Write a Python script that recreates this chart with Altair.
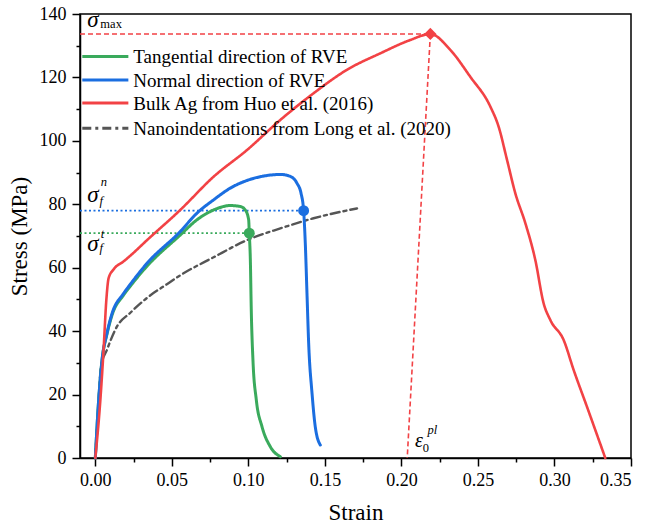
import altair as alt
import pandas as pd

# ---------------- data ----------------
red_strain = [0, 0.0033, 0.0054, 0.0072, 0.0087, 0.012, 0.0185, 0.0229, 0.0338, 0.0555, 0.0773,
              0.0991, 0.1209, 0.1426, 0.1644, 0.1862, 0.2058, 0.2189, 0.2319, 0.245, 0.2581,
              0.2635, 0.269, 0.2744, 0.281, 0.2875, 0.2929, 0.2973, 0.306, 0.3125, 0.3212, 0.3332]
red_stress = [0, 18.3, 34.1, 49.8, 56.7, 59.5, 62.0, 63.8, 68.7, 78.2, 88.7,
              97.1, 106.6, 115.0, 122.4, 127.6, 131.8, 133.7, 128.7, 120.2, 110.8,
              104.5, 94.0, 83.5, 74.0, 62.4, 48.8, 43.5, 37.2, 27.8, 16.2, 0]

blue_strain = [0, 0.0022, 0.0044, 0.0076, 0.0109, 0.0185, 0.0229, 0.0338, 0.0555, 0.0664, 0.0773,
               0.0882, 0.0991, 0.11, 0.1209, 0.1274, 0.1318, 0.1344, 0.1361, 0.1372, 0.1383,
               0.1394, 0.1416, 0.1437, 0.147]
blue_stress = [0, 18.3, 30.9, 39.3, 45.5, 51.9, 54.8, 61.4, 71.4, 77.2, 81.4,
               85.1, 87.5, 88.9, 89.4, 88.8, 86.6, 83.5, 78.0, 67.7, 51.9,
               36.2, 20.4, 9.9, 4.1]

green_strain = [0, 0.0022, 0.0044, 0.0076, 0.0109, 0.0185, 0.0229, 0.0338, 0.0555, 0.0664, 0.0773,
                0.0882, 0.0947, 0.098, 0.1002, 0.1006, 0.1013, 0.1019, 0.103, 0.1052, 0.1089,
                0.1143, 0.1209]
green_stress = [0, 18.3, 30.9, 39.0, 45.0, 51.4, 54.2, 60.5, 70.3, 75.1, 78.2,
                79.6, 79.3, 78.2, 75.1, 70.9, 62.4, 46.7, 30.9, 18.3, 9.9,
                3.6, 0.4]

gray_strain = [0, 0.0022, 0.0037, 0.0076, 0.0142, 0.0229, 0.0338, 0.0468, 0.0555, 0.0773,
               0.0991, 0.1209, 0.1426, 0.171]
gray_stress = [0, 18.3, 28.8, 34.1, 41.5, 45.8, 50.5, 54.8, 57.6, 63.3,
               68.7, 72.4, 75.6, 78.7]

series_names = ["Tangential direction of RVE", "Normal direction of RVE",
                "Bulk Ag from Huo et al. (2016)", "Nanoindentations from Long et al. (2020)"]
series_colors = ["#3AAA5C", "#1B6EE0", "#F24245", "#555555"]
series_dash = [[1, 0], [1, 0], [1, 0], [9, 4, 3, 4]]

peak_strain, peak_stress = 0.2189, 133.7
eps0_strain = 0.2038
blue_fail_strain, blue_fail_stress = 0.1361, 78.0
green_fail_strain, green_fail_stress = 0.1006, 70.9

x_min, x_max = -0.01, 0.35
y_min, y_max = 0, 140
x_tick_values = [round(i * 0.025, 3) for i in range(15)]
y_tick_values = list(range(0, 141, 10))

# legend rows (stress level for each row) and line/label strain positions
legend_rows_stress = [126.6, 119.2, 111.9, 104.0]
legend_line_x1, legend_line_x2, legend_text_x = -0.0085, 0.0216, 0.0248

FONT = "Liberation Serif"

# ---------------- build tables ----------------
def series_df(name, xs, ys):
    return pd.DataFrame({"series": name, "idx": range(len(xs)), "strain": xs, "stress": ys})

df_green = series_df(series_names[0], green_strain, green_stress)
df_blue = series_df(series_names[1], blue_strain, blue_stress)
df_red = series_df(series_names[2], red_strain, red_stress)
df_gray = series_df(series_names[3], gray_strain, gray_stress)

color_scale = alt.Scale(domain=series_names, range=series_colors)
dash_scale = alt.Scale(domain=series_names, range=series_dash)

xs = alt.Scale(domain=[x_min, x_max], nice=False, zero=False)
ys = alt.Scale(domain=[y_min, y_max], nice=False, zero=False)

minor_x = "abs(datum.value*20 - round(datum.value*20)) > 0.001"
minor_y = "datum.value % 20 != 0"

x_axis = alt.Axis(values=x_tick_values, title="Strain",
                  labelExpr="abs(datum.value*20 - round(datum.value*20)) > 0.001 ? '' : format(datum.value, '.2f')",
                  tickSize={"condition": {"test": minor_x, "value": 4}, "value": 8},
                  grid=False, labelPadding=5, titlePadding=12,
                  labelFont=FONT, titleFont=FONT, labelFontSize=18, titleFontSize=23,
                  titleFontWeight="normal")
y_axis = alt.Axis(values=y_tick_values, title="Stress (MPa)",
                  labelExpr="datum.value % 20 != 0 ? '' : format(datum.value, 'd')",
                  tickSize={"condition": {"test": minor_y, "value": 4}, "value": 8},
                  grid=False, labelPadding=6, titlePadding=8,
                  labelFont=FONT, titleFont=FONT, labelFontSize=18, titleFontSize=23,
                  titleFontWeight="normal")


def curve(df, width):
    return alt.Chart(df).mark_line(strokeWidth=width, strokeCap="round", strokeJoin="round",
                                   interpolate="monotone").encode(
        x=alt.X("strain:Q", scale=xs, axis=x_axis),
        y=alt.Y("stress:Q", scale=ys, axis=y_axis),
        color=alt.Color("series:N", scale=color_scale, legend=None),
        strokeDash=alt.StrokeDash("series:N", scale=dash_scale, legend=None),
        order="idx:Q",
    )


# reference (dashed / dotted) guide lines
guides = pd.DataFrame({
    "x1": [x_min, peak_strain, x_min, x_min],
    "x2": [peak_strain, eps0_strain, blue_fail_strain, green_fail_strain],
    "y1": [peak_stress, peak_stress, blue_fail_stress, green_fail_stress],
    "y2": [peak_stress, 0, blue_fail_stress, green_fail_stress],
    "kind": ["max_h", "max_v", "blue", "green"],
})
red_guides = alt.Chart(guides).transform_filter("datum.kind == 'max_h' || datum.kind == 'max_v'").mark_rule(
    color="#F24245", strokeWidth=1.6, strokeDash=[5, 3]).encode(
    x=alt.X("x1:Q", scale=xs, axis=x_axis), x2="x2:Q", y=alt.Y("y1:Q", scale=ys, axis=y_axis), y2="y2:Q")
blue_guide = alt.Chart(guides).transform_filter("datum.kind == 'blue'").mark_rule(
    color="#1B6EE0", strokeWidth=1.6, strokeDash=[2, 2.5]).encode(
    x=alt.X("x1:Q", scale=xs, axis=x_axis), x2="x2:Q", y=alt.Y("y1:Q", scale=ys, axis=y_axis))
green_guide = alt.Chart(guides).transform_filter("datum.kind == 'green'").mark_rule(
    color="#3AAA5C", strokeWidth=1.6, strokeDash=[2, 2.5]).encode(
    x=alt.X("x1:Q", scale=xs, axis=x_axis), x2="x2:Q", y=alt.Y("y1:Q", scale=ys, axis=y_axis))

# markers
pts = pd.DataFrame({
    "strain": [green_fail_strain, blue_fail_strain],
    "stress": [green_fail_stress, blue_fail_stress],
    "series": [series_names[0], series_names[1]],
})
dots = alt.Chart(pts).mark_point(filled=True, shape="circle", size=120, opacity=1).encode(
    x=alt.X("strain:Q", scale=xs, axis=x_axis), y=alt.Y("stress:Q", scale=ys, axis=y_axis),
    color=alt.Color("series:N", scale=color_scale, legend=None))
peak = alt.Chart(pd.DataFrame({"strain": [peak_strain], "stress": [peak_stress]})).mark_point(
    filled=True, shape="diamond", size=150, color="#F24245", opacity=1).encode(
    x=alt.X("strain:Q", scale=xs, axis=x_axis), y=alt.Y("stress:Q", scale=ys, axis=y_axis))

# manual legend
leg = pd.DataFrame({
    "series": series_names,
    "y": legend_rows_stress,
    "x1": [legend_line_x1] * 4,
    "x2": [legend_line_x2] * 4,
    "xt": [legend_text_x] * 4,
})
leg_lines = alt.Chart(leg).mark_rule(strokeWidth=3).encode(
    x=alt.X("x1:Q", scale=xs, axis=x_axis), x2="x2:Q", y=alt.Y("y:Q", scale=ys, axis=y_axis),
    color=alt.Color("series:N", scale=color_scale, legend=None),
    strokeDash=alt.StrokeDash("series:N", scale=dash_scale, legend=None))
leg_text = alt.Chart(leg).mark_text(align="left", baseline="middle", font=FONT,
                                     fontSize=19, color="black", dy=1).encode(
    x=alt.X("xt:Q", scale=xs, axis=x_axis), y=alt.Y("y:Q", scale=ys, axis=y_axis), text="series:N")

# math annotations
ann = pd.DataFrame({
    "txt":   ["σ", "max", "σ", "n", "f", "σ", "t", "f", "ε", "0", "pl"],
    "x":     [-0.0052, 0.0033, -0.0052, 0.0036, 0.0028, -0.0052, 0.0036, 0.0028, 0.2088, 0.2140, 0.2170],
    "y":     [135.9, 135.6, 80.7, 85.8, 79.8, 65.2, 69.4, 65.0, 3.6, 2.0, 7.6],
    "size":  [23, 12.5, 23, 12.5, 12.5, 23, 12.5, 12.5, 20, 12.5, 12.5],
    "style": ["italic", "normal", "italic", "italic", "italic", "italic", "italic", "italic",
              "italic", "normal", "italic"],
})
ann_layers = []
for style in ["italic", "normal"]:
    ann_layers.append(
        alt.Chart(ann).transform_filter(f"datum.style == '{style}'").mark_text(
            align="left", baseline="alphabetic", font=FONT, fontStyle=style,
            color="black").encode(
            x=alt.X("x:Q", scale=xs, axis=x_axis), y=alt.Y("y:Q", scale=ys, axis=y_axis), text="txt:N",
            size=alt.Size("size:Q", scale=None, legend=None))
    )

chart = alt.layer(
    red_guides, blue_guide, green_guide,
    curve(df_gray, 2.4), curve(df_green, 3), curve(df_blue, 3), curve(df_red, 2.6),
    dots, peak, leg_lines, leg_text, *ann_layers,
).properties(
    width=551, height=444,
    autosize=alt.AutoSizeParams(type="none"),
    padding={"left": 80, "top": 14, "right": 15, "bottom": 72},
    background="white",
).configure(
    font=FONT,
).configure_view(
    stroke="black", strokeWidth=1.5,
).configure_axis(
    domainColor="black", domainWidth=1.5, tickColor="black", tickWidth=1.5,
    labelFont=FONT, labelFontSize=18, labelColor="black",
    titleFont=FONT, titleFontSize=23, titleColor="black", titleFontWeight="normal",
)

chart.save("out.html", embed_options={"renderer": "svg", "actions": False})
